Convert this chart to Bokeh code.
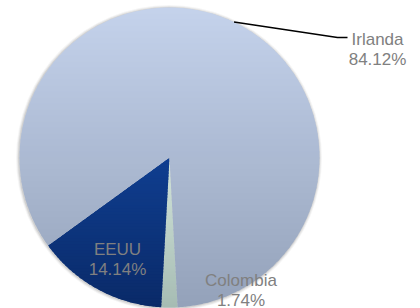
import numpy as np
from bokeh.plotting import figure
from bokeh.models import Range1d
from bokeh.core.properties import value
from bokeh.embed import file_html
from bokeh.resources import INLINE

# ---- data ----
categories = ["Colombia", "EEUU", "Irlanda"]
shares = [1.74, 14.14, 84.12]
pct_labels = ["1.74%", "14.14%", "84.12%"]

# ---- style ----
top_colors = ["#d2e4da", "#0f3e90", "#c4d2eb"]
bottom_colors = ["#a6bcb3", "#0a2a68", "#94a2ba"]
start_deg = 176.9  # clockwise from 12 o'clock
FONT = value("Liberation Sans")
TXT = "#808080"

W, H = 420, 308
R = 150.0              # radius in px
CX, CY = 169.0, 157.0  # centre in picture px


def hex2rgb(h):
    h = h.lstrip("#")
    return np.array([int(h[i:i + 2], 16) for i in (0, 2, 4)], dtype=float)


def mix(c1, c2, t):
    a, b = hex2rgb(c1), hex2rgb(c2)
    c = a + (b - a) * t
    return "#%02x%02x%02x" % tuple(int(round(v)) for v in c)


def clip_half(pts, keep, yc):
    out = []
    n = len(pts)
    for i in range(n):
        cur, prev = pts[i], pts[i - 1]
        cin, pin = keep(cur), keep(prev)
        if cin != pin:
            t = (yc - prev[1]) / (cur[1] - prev[1])
            out.append((prev[0] + t * (cur[0] - prev[0]), yc))
        if cin:
            out.append(cur)
    return out


def clip_band(pts, lo, hi):
    pts = clip_half(pts, lambda p: p[1] >= lo, lo)
    if not pts:
        return pts
    return clip_half(pts, lambda p: p[1] <= hi, hi)


def pt(theta_deg, r=1.0):
    a = np.radians(theta_deg)
    return (r * np.sin(a), r * np.cos(a))


# figure in units of the radius, picture px mapped 1:1
x0, x1 = (0 - CX) / R, (W - CX) / R
y1, y0 = (CY - 0) / R, (CY - H) / R
p = figure(width=W, height=H, output_backend="svg", toolbar_location=None,
           x_range=Range1d(x0, x1), y_range=Range1d(y0, y1), min_border=0)
p.axis.visible = False
p.grid.visible = False
p.outline_line_color = None
p.background_fill_color = "white"
p.border_fill_color = "white"

# soft shadow
for k, a in [(3, 0.04), (2, 0.06), (1, 0.09)]:
    p.circle(x=[-0.5 / R], y=[-0.5 / R], radius=1 + k / R, fill_color="black",
             fill_alpha=a, line_color=None)

angles = []
cum = start_deg
for s in shares:
    a0 = cum
    a1 = cum + s / 100.0 * 360.0
    angles.append((a0, a1))
    cum = a1

nb = 50
ov = 1.2 / R  # overlap between bands to hide seams
for i, (a0, a1) in enumerate(angles):
    nseg = max(2, int(abs(a1 - a0) * 2))
    poly = [(0.0, 0.0)] + [pt(t) for t in np.linspace(a0, a1, nseg + 1)]
    ys = [q[1] for q in poly]
    ymin, ymax = min(ys), max(ys)
    edges = np.linspace(ymax, ymin, nb + 1)
    xs_all, ys_all, cols = [], [], []
    for b in range(nb):
        hi, lo = edges[b], edges[b + 1]
        band = clip_band(poly, lo - ov, hi)
        if len(band) < 3:
            continue
        t = (ymax - (hi + lo) / 2) / (ymax - ymin)
        xs_all.append([q[0] for q in band])
        ys_all.append([q[1] for q in band])
        cols.append(mix(top_colors[i], bottom_colors[i], t))
    p.patches(xs=xs_all, ys=ys_all, fill_color=cols, line_color=None)

# leader line for Irlanda
mid_irl = (angles[2][0] + angles[2][1]) / 2
sx, sy = pt(mid_irl)
lx = [sx, (337 - CX) / R, (347 - CX) / R]
ly = [sy, (CY - 37) / R, (CY - 37) / R]
p.line(lx, ly, line_color="black", line_width=1.5)

# labels (name line, percentage line)
label_pos = {
    "Irlanda": (377, 39),
    "EEUU": (117, 249),
    "Colombia": (240.5, 280),
}
for cat, pct in zip(categories, pct_labels):
    X, Y = label_pos[cat]
    xx = (X - CX) / R
    p.text(x=[xx], y=[(CY - Y) / R], text=[cat], text_font=FONT,
           text_font_size="17px", text_color=TXT, text_align="center",
           text_baseline="alphabetic")
    p.text(x=[xx], y=[(CY - Y - 20) / R], text=[pct], text_font=FONT,
           text_font_size="17px", text_color=TXT, text_align="center",
           text_baseline="alphabetic")

open("out.html", "w").write(file_html(p, INLINE))
